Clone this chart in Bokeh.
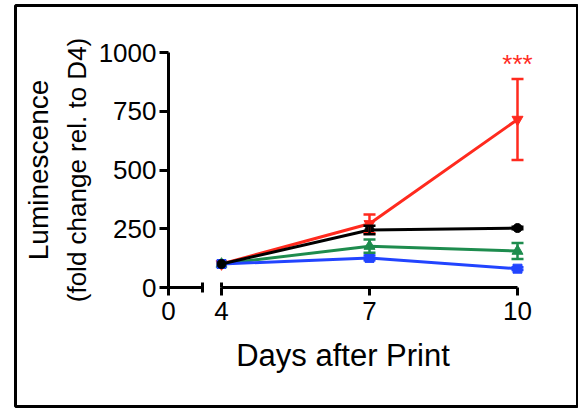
from bokeh.plotting import figure
from bokeh.models import (ColumnDataSource, LinearAxis, FixedTicker, CustomJSTickFormatter,
                          Whisker, TeeHead, Range1d)
from bokeh.embed import file_html
from bokeh.resources import INLINE
from bokeh.core.properties import value

# ---------------- data ----------------
days = [4, 7, 10]
red_mean = [100, 271, 715]
red_err = [0, 40, 172]
green_mean = [100, 176, 155]
green_err = [0, 28, 34]
blue_mean = [100, 126, 80]
blue_err = [0, 10, 6]
black_mean = [100, 245, 253]
black_err = [0, 18, 5]
y_ticks = [0, 250, 500, 750, 1000]
x_first_tick = [0]
sig_text = ["***"]

# ---------------- layout (pixels) ----------------
FONT = "Liberation Sans"
TXT = "#000000"
W, H = 578, 408
BL, BT, BB, BR = 15, 5, 2, 0          # frame borders inside the figure
FRAME_L, FRAME_R = BL, W - BR
FRAME_T, FRAME_B = BT, H - BB
X0_PX, Y0_PX = 168.0, 287.0           # page position of day 0 / value 0
PX_DAY = (517.0 - 221.0) / 6.0        # pixels per day
PX_VAL = (287.0 - 52.0) / 1000.0      # pixels per unit
XB4 = (221.0 - X0_PX) / PX_DAY        # broken-axis position of day 4
SHIFT = days[0] - XB4
BREAK_L = (202.0 - X0_PX) / PX_DAY    # end of first axis segment


def xb(d):
    return d - SHIFT


xs = [xb(d) for d in days]

RED, GREEN, BLUE, BLACK = "#ff2a1e", "#1e8c4e", "#2244ff", "#000000"

p = figure(width=W, height=H, output_backend="svg", toolbar_location=None,
           x_axis_type=None, y_axis_type=None,
           x_range=Range1d(-(X0_PX - FRAME_L) / PX_DAY, (FRAME_R - X0_PX) / PX_DAY),
           y_range=Range1d(-(FRAME_B - Y0_PX) / PX_VAL, (Y0_PX - FRAME_T) / PX_VAL),
           min_border_left=BL, min_border_right=BR, min_border_top=BT, min_border_bottom=BB)
p.outline_line_color = "black"
p.outline_line_width = 3
p.background_fill_color = "white"
p.border_fill_color = "white"

LW = 3
common = dict(major_label_text_font=FONT, major_label_text_font_size="26px",
              major_label_text_color=TXT, axis_label_text_font=FONT,
              axis_label_text_color=TXT, axis_label_text_font_style="normal",
              axis_line_color="black", major_tick_line_color="black",
              minor_tick_line_color="black")

# y axis
yax = LinearAxis(fixed_location=0, bounds=(y_ticks[0], y_ticks[-1]),
                 ticker=FixedTicker(ticks=y_ticks, minor_ticks=[]),
                 axis_line_width=LW, major_tick_line_width=LW,
                 major_tick_out=9, major_tick_in=0, major_label_standoff=3,
                 axis_label="(fold change rel. to D4)",
                 axis_label_text_font_size="26px", axis_label_standoff=4, **common)
p.add_layout(yax, "left")

c2 = dict(common)
c2.update(axis_line_color=None, major_tick_line_color=None, major_label_text_color=None)
yax2 = LinearAxis(fixed_location=0, bounds=(y_ticks[0], y_ticks[-1]),
                  ticker=FixedTicker(ticks=y_ticks, minor_ticks=[]),
                  major_tick_out=9, major_tick_in=0, major_label_standoff=3,
                  axis_label="Luminescence",
                  axis_label_text_font_size="28px", axis_label_standoff=106, **c2)
p.add_layout(yax2, "left")

# x axis: first short segment (0 .. break)
xax1 = LinearAxis(fixed_location=0, bounds=(0, BREAK_L),
                  ticker=FixedTicker(ticks=x_first_tick, minor_ticks=[BREAK_L]),
                  axis_line_width=LW, major_tick_line_width=LW, minor_tick_line_width=LW,
                  major_tick_out=8, major_tick_in=0, minor_tick_out=5, minor_tick_in=5,
                  major_label_standoff=6, **common)
p.add_layout(xax1, "below")

fmt = CustomJSTickFormatter(args=dict(shift=SHIFT), code="return (tick + shift).toFixed(0)")

xax2 = LinearAxis(fixed_location=0, bounds=(xs[0], xs[-1]),
                  ticker=FixedTicker(ticks=xs, minor_ticks=[xs[0]]),
                  formatter=fmt,
                  axis_line_width=LW, major_tick_line_width=LW, minor_tick_line_width=LW,
                  major_tick_out=8, major_tick_in=0, minor_tick_out=0, minor_tick_in=5,
                  major_label_standoff=6, **common)
p.add_layout(xax2, "below")

# axis title spanning the whole broken axis
xax3 = LinearAxis(fixed_location=0, bounds=(0, xs[-1]),
                  ticker=FixedTicker(ticks=xs, minor_ticks=[]),
                  formatter=fmt,
                  major_tick_out=8, major_tick_in=0, major_label_standoff=3,
                  axis_label="Days after Print",
                  axis_label_text_font_size="31px", axis_label_standoff=42, **c2)
p.add_layout(xax3, "below")

series = [
    (red_mean, red_err, RED, "inverted_triangle", 11),
    (green_mean, green_err, GREEN, "triangle", 11),
    (blue_mean, blue_err, BLUE, "square", 9),
    (black_mean, black_err, BLACK, "circle", 9),
]

for mean, err, col, mk, sz in series:
    src = ColumnDataSource(dict(x=xs, y=mean))
    wsrc = ColumnDataSource(dict(
        x=[x for x, e in zip(xs, err) if e > 0],
        lo=[m - e for m, e in zip(mean, err) if e > 0],
        hi=[m + e for m, e in zip(mean, err) if e > 0]))
    p.add_layout(Whisker(source=wsrc, base="x", lower="lo", upper="hi",
                         line_color=col, line_width=2.5, level="glyph",
                         upper_head=TeeHead(size=12, line_color=col, line_width=2.5),
                         lower_head=TeeHead(size=12, line_color=col, line_width=2.5)))
    p.line("x", "y", source=src, line_color=col, line_width=LW)
    p.scatter("x", "y", source=src, marker=mk, size=sz, fill_color=col, line_color=col)

# significance mark above the red day-10 error bar
p.text(x=[xs[-1]], y=[red_mean[-1] + red_err[-1]], text=sig_text,
       text_color=RED, text_align="center", text_baseline="alphabetic",
       y_offset=-15, text_font=value(FONT), text_font_size="26px")

open("out.html", "w").write(file_html(p, INLINE))
